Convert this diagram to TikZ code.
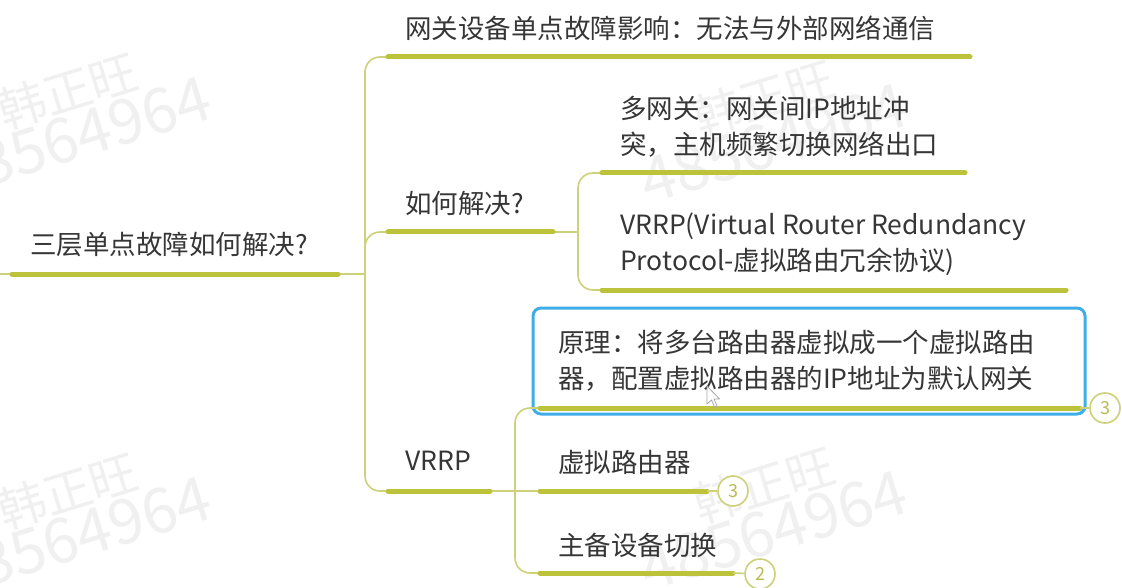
\documentclass[tikz,border=0pt]{standalone}
\usepackage{fontspec}
\setmainfont{Noto Sans CJK SC}
\definecolor{mmOlive}{HTML}{BCC23A}
\definecolor{mmThin}{HTML}{CDD27A}
\definecolor{mmRing}{HTML}{CCD17A}
\definecolor{mmBadge}{HTML}{B8BC55}
\definecolor{mmBlue}{HTML}{3FAEE8}
\definecolor{mmText}{HTML}{363636}
\definecolor{mmWm}{HTML}{F0F0F0}
\begin{document}
\begin{tikzpicture}[x=1pt,y=-1pt,
  txt/.style={anchor=west, inner sep=0pt, text=mmText, font=\fontsize{26.5}{36}\selectfont, align=left},
  uline/.style={draw=mmOlive, line width=5pt, line cap=round},
  conn/.style={draw=mmThin, line width=1.6pt, rounded corners=15pt},
  badge/.style={circle, draw=mmRing, line width=1.6pt, fill=white, minimum size=30pt, inner sep=0pt, text=mmBadge, font=\fontsize{18}{18}\selectfont},
  wmdig/.style={anchor=base west, inner sep=0pt, text=mmWm, rotate=17, font=\fontsize{62}{62}\selectfont},
  wmname/.style={anchor=base west, inner sep=0pt, text=mmWm, rotate=17, font=\fontsize{48}{48}\selectfont},
]
\useasboundingbox (0,0) rectangle (1122,588);
\fill[white] (0,0) rectangle (1122,588);

% watermarks
\foreach \wx/\wy [count=\i] in {648/205, 648/592, -48/198, -48/598}{
  \node[wmdig] (wd\i) at (\wx,\wy) {48564964};
  \node[wmname] (wn\i) at (\wx+52,\wy-68) {韩正旺};
}

% text nodes
\node[txt] (root) at (30,244) {三层单点故障如何解决?};
\node[txt] (gw) at (405,28) {网关设备单点故障影响：无法与外部网络通信};
\node[txt] (how) at (405,203) {如何解决?};
\node[txt] (vrrp) at (405,461) {VRRP};
\node[txt] (multi) at (620,127) {多网关：网关间IP地址冲\\突，主机频繁切换网络出口};
\node[txt] (vfull) at (620,244) {VRRP(Virtual Router Redundancy\\Protocol-虚拟路由冗余协议)};
\node[txt] (prin) at (558,361) {原理：将多台路由器虚拟成一个虚拟路由\\器，配置虚拟路由器的IP地址为默认网关};
\node[txt] (vr) at (558,462) {虚拟路由器};
\node[txt] (sw) at (558,545) {主备设备切换};

% underline end points
\coordinate (rootA) at (12,274);   \coordinate (rootB) at (338,274);
\coordinate (gwA) at (388,57);     \coordinate (gwB) at (970,57);
\coordinate (howA) at (388,232);   \coordinate (howB) at (553,232);
\coordinate (vrrpA) at (388,491);  \coordinate (vrrpB) at (490,491);
\coordinate (multiA) at (602,173); \coordinate (multiB) at (965,173);
\coordinate (vfullA) at (602,290); \coordinate (vfullB) at (1066,290);
\coordinate (prinA) at (540,408);  \coordinate (prinB) at (1080,408);
\coordinate (vrA) at (540,491);    \coordinate (vrB) at (707,491);
\coordinate (swA) at (540,573);    \coordinate (swB) at (733,573);
\coordinate (lefte) at (0,274);

% selection box
\draw[mmBlue, line width=3pt, rounded corners=8pt] (533,308) rectangle (1085,414);

% connectors
\draw[conn] (lefte) -- (rootA);
\draw[conn] (rootB) -- (365,274);
\draw[conn] (gwA) -| (365,274) |- (vrrpA);
\draw[conn] (365,274) |- (howA);
\draw[conn] (howB) -- (578,232);
\draw[conn] (multiA) -| (578,232) |- (vfullA);
\draw[conn] (vrrpB) -- (vrA);
\draw[conn] (prinA) -| (515,491) |- (swA);

% underlines
\foreach \n in {root,gw,how,vrrp,multi,vfull,prin,vr,sw}{
  \draw[uline] (\n A) -- (\n B);
}

% badges
\node[badge] (b1) at (1105,408) {3};
\node[badge] (b2) at (733,491) {3};
\node[badge] (b3) at (760,574) {2};
\draw[mmThin, line width=1.6pt] (prinB) -- (b1);
\draw[mmThin, line width=1.6pt] (vrB) -- (b2);
\draw[mmThin, line width=1.6pt] (swB) -- (b3);

% mouse cursor
\draw[fill=white, draw=gray!70, line width=0.8pt, line join=round]
  (707,386) -- ++(0,18) -- ++(4.5,-4) -- ++(3,7) -- ++(2.5,-1) -- ++(-3,-7) -- ++(5.5,0) -- cycle;
\end{tikzpicture}
\end{document}
